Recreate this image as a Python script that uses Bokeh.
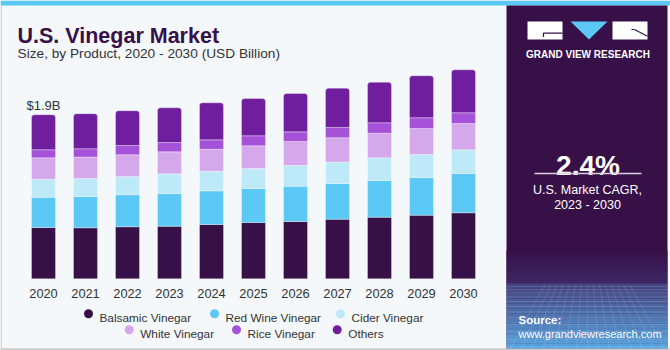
import numpy as np
from bokeh.plotting import figure
from bokeh.models import Range1d
from bokeh.core.properties import value
from bokeh.embed import file_html
from bokeh.resources import INLINE

# ---------------- data ----------------
years = [2020, 2021, 2022, 2023, 2024, 2025, 2026, 2027, 2028, 2029, 2030]
year_labels = [str(y) for y in years]
balsamic = [0.594, 0.591, 0.603, 0.609, 0.629, 0.652, 0.664, 0.691, 0.714, 0.737, 0.765]
red_wine = [0.351, 0.363, 0.371, 0.379, 0.390, 0.394, 0.409, 0.414, 0.425, 0.437, 0.455]
cider = [0.209, 0.209, 0.212, 0.228, 0.227, 0.232, 0.240, 0.247, 0.263, 0.267, 0.275]
white_v = [0.248, 0.247, 0.251, 0.255, 0.255, 0.263, 0.278, 0.283, 0.285, 0.301, 0.305]
rice = [0.093, 0.097, 0.108, 0.108, 0.109, 0.116, 0.112, 0.119, 0.121, 0.124, 0.124]
others = [0.406, 0.406, 0.402, 0.402, 0.429, 0.432, 0.444, 0.455, 0.470, 0.487, 0.498]
series_names = ["Balsamic Vinegar", "Red Wine Vinegar", "Cider Vinegar",
                "White Vinegar", "Rice Vinegar", "Others"]
series_values = [balsamic, red_wine, cider, white_v, rice, others]
cagr_text = "2.4%"
cagr_caption = ["U.S. Market CAGR,", "2023 - 2030"]
title_text = "U.S. Vinegar Market"
subtitle_text = "Size, by Product, 2020 - 2030 (USD Billion)"

# ---------------- style ----------------
colors = ["#371047", "#5bc8f5", "#bde9f9", "#d5a8ec", "#a552d8", "#6f1f9e"]
FONT = value("Liberation Sans")
W, H = 670, 350
BAR_PX0, BAR_STEP = 43.0, 42.0       # centre of first bar, spacing (px)
BASE_PX, PX_PER_UNIT = 278.3, 86.3   # baseline (px from top), px per billion

p = figure(width=W, height=H, output_backend="svg", toolbar_location=None,
           x_axis_type=None, y_axis_type=None, min_border=0,
           outline_line_color=None,
           background_fill_color="#f4f8fb", border_fill_color="#f4f8fb",
           x_range=Range1d(years[0] - BAR_PX0 / BAR_STEP, years[0] + (W - BAR_PX0) / BAR_STEP),
           y_range=Range1d(-(H - BASE_PX) / PX_PER_UNIT, BASE_PX / PX_PER_UNIT))
p.grid.visible = False
p.extra_x_ranges = {"px": Range1d(0, W)}
p.extra_y_ranges = {"px": Range1d(H, 0)}
PX = dict(x_range_name="px", y_range_name="px")

# ---------------- frame decorations ----------------
p.quad(left=[0], right=[W], top=[0], bottom=[5], color="#5ac8f4", line_color=None, **PX)
p.quad(left=[0], right=[1.2], top=[5], bottom=[H], color="#c9c9c9", line_color=None, **PX)
p.quad(left=[0], right=[W], top=[347.8], bottom=[H], color="#cdcdcd", line_color=None, **PX)

# right panel
PL, PR, PT, PB = 506, 667, 5, 347.8
p.quad(left=[PL], right=[PR], top=[PT], bottom=[PB], color="#371047", line_color=None, **PX)

def lerp_hex(c1, c2, t):
    a = np.array([int(c1[i:i + 2], 16) for i in (1, 3, 5)])
    b = np.array([int(c2[i:i + 2], 16) for i in (1, 3, 5)])
    c = (a + (b - a) * t).round().astype(int)
    return "#%02x%02x%02x" % tuple(c)

# soft gradient above the grid
tops, bots, cols = [], [], []
n1 = 14
for i in range(n1):
    y0 = 250 + (283 - 250) * i / n1
    y1 = 250 + (283 - 250) * (i + 1) / n1
    tops.append(y0); bots.append(y1 + 0.3)
    cols.append(lerp_hex("#371047", "#3e2966", (i + 0.5) / n1))
n2 = 26
for i in range(n2):
    y0 = 283 + (PB - 283) * i / n2
    y1 = 283 + (PB - 283) * (i + 1) / n2
    tops.append(y0); bots.append(y1 + 0.3)
    cols.append(lerp_hex("#45427f", "#5aa6e0", (i + 0.5) / n2))
p.quad(left=[PL] * len(tops), right=[PR] * len(tops), top=tops, bottom=bots,
       color=cols, line_color=None, **PX)

# perspective grid
hy = [286, 289, 292.5, 296.5, 301, 306, 311.5, 317.5, 324, 331, 338.5, 346.5]
p.multi_line(xs=[[PL, PR]] * len(hy), ys=[[y, y] for y in hy],
             line_color="white", line_alpha=0.16, line_width=0.8, **PX)
vx_b = np.arange(PL + 4, PR, 11.0)
vx_t = 586.5 + (vx_b - 586.5) * 0.55
p.multi_line(xs=[[a, b] for a, b in zip(vx_t, vx_b)], ys=[[284, PB]] * len(vx_b),
             line_color="white", line_alpha=0.14, line_width=0.8, **PX)

# logo
p.quad(left=[527, 612], right=[562, 647], top=[21, 21], bottom=[39, 39],
       color="white", line_color=None, **PX)
p.patch(x=[570, 607, 588.5], y=[21, 21, 39], color="#5bc8f5", line_color=None, **PX)
p.line(x=[543, 543, 562], y=[36.5, 32.7, 32.7], line_color="#371047", line_width=1.2, **PX)
p.line(x=[634, 647], y=[29, 35.7], line_color="#371047", line_width=1.2, **PX)
p.line(x=[631, 634], y=[29, 29], line_color="#371047", line_width=1.0, **PX)
p.text(x=[587.5], y=[54.3], text=["GRAND VIEW RESEARCH"], text_font=FONT,
       text_font_size="10px", text_font_style="bold", text_color="white",
       text_align="center", text_baseline="alphabetic", **PX)

# CAGR block
p.text(x=[587.5], y=[165], text=[cagr_text], text_font=FONT, text_font_size="28px",
       text_font_style="bold", text_color="white", text_align="center",
       text_baseline="alphabetic", **PX)
p.line(x=[534, 641], y=[173, 173], line_color="#d8d0e0", line_width=1.3, **PX)
p.text(x=[587, 587], y=[189.3, 204], text=cagr_caption, text_font=FONT,
       text_font_size="12.5px", text_color="white", text_align="center",
       text_baseline="alphabetic", **PX)

# source
p.text(x=[518], y=[319.3], text=["Source:"], text_font=FONT, text_font_size="11.5px",
       text_font_style="bold", text_color="white", text_baseline="alphabetic", **PX)
p.text(x=[518], y=[333.3], text=["www.grandviewresearch.com"], text_font=FONT,
       text_font_size="11px", text_color="white", text_baseline="alphabetic", **PX)

# titles
p.text(x=[17], y=[35], text=[title_text], text_font=FONT, text_font_size="21.5px",
       text_font_style="bold", text_color="#371047", text_baseline="alphabetic", **PX)
p.text(x=[17], y=[53.3], text=[subtitle_text], text_font=FONT, text_font_size="13.7px",
       text_color="#333333", text_baseline="alphabetic", **PX)

# ---------------- stacked bars ----------------
vals = np.array(series_values)
cum = np.cumsum(vals, axis=0)
bar_w = 24.0 / BAR_STEP
for i, name in enumerate(series_names):
    bottom = cum[i - 1] if i > 0 else np.zeros(len(years))
    kw = {}
    if i == len(series_names) - 1:
        kw["border_radius"] = (3, 3, 0, 0)
    p.vbar(x=years, width=bar_w, bottom=bottom, top=cum[i], color=colors[i],
           line_color="white", line_alpha=0.55, line_width=0.6, **kw)

totals = cum[-1]
p.text(x=[years[0]], y=[totals[0]], text=["$%.1fB" % totals[0]], text_font=FONT,
       text_font_size="13px", text_color="#333333", text_align="center",
       text_baseline="alphabetic", y_offset=-9.3)

# year tick labels
p.text(x=years, y=[0] * len(years), text=year_labels, text_font=FONT,
       text_font_size="12.8px", text_color="#333333", text_align="center",
       text_baseline="alphabetic", y_offset=14.4)

# ---------------- legend ----------------
leg_rows = [(317.3, 313.3, [88, 214, 340]), (333.3, 329.3, [128.7, 236, 336.7])]
k = 0
for base, cy, dots in leg_rows:
    for dx in dots:
        p.scatter(x=[dx], y=[cy], size=9, marker="circle", color=colors[k],
                  line_color=None, **PX)
        p.text(x=[dx + 11], y=[base], text=[series_names[k]], text_font=FONT,
               text_font_size="11.8px", text_color="#333333",
               text_baseline="alphabetic", **PX)
        k += 1

open("out.html", "w").write(file_html(p, INLINE))
